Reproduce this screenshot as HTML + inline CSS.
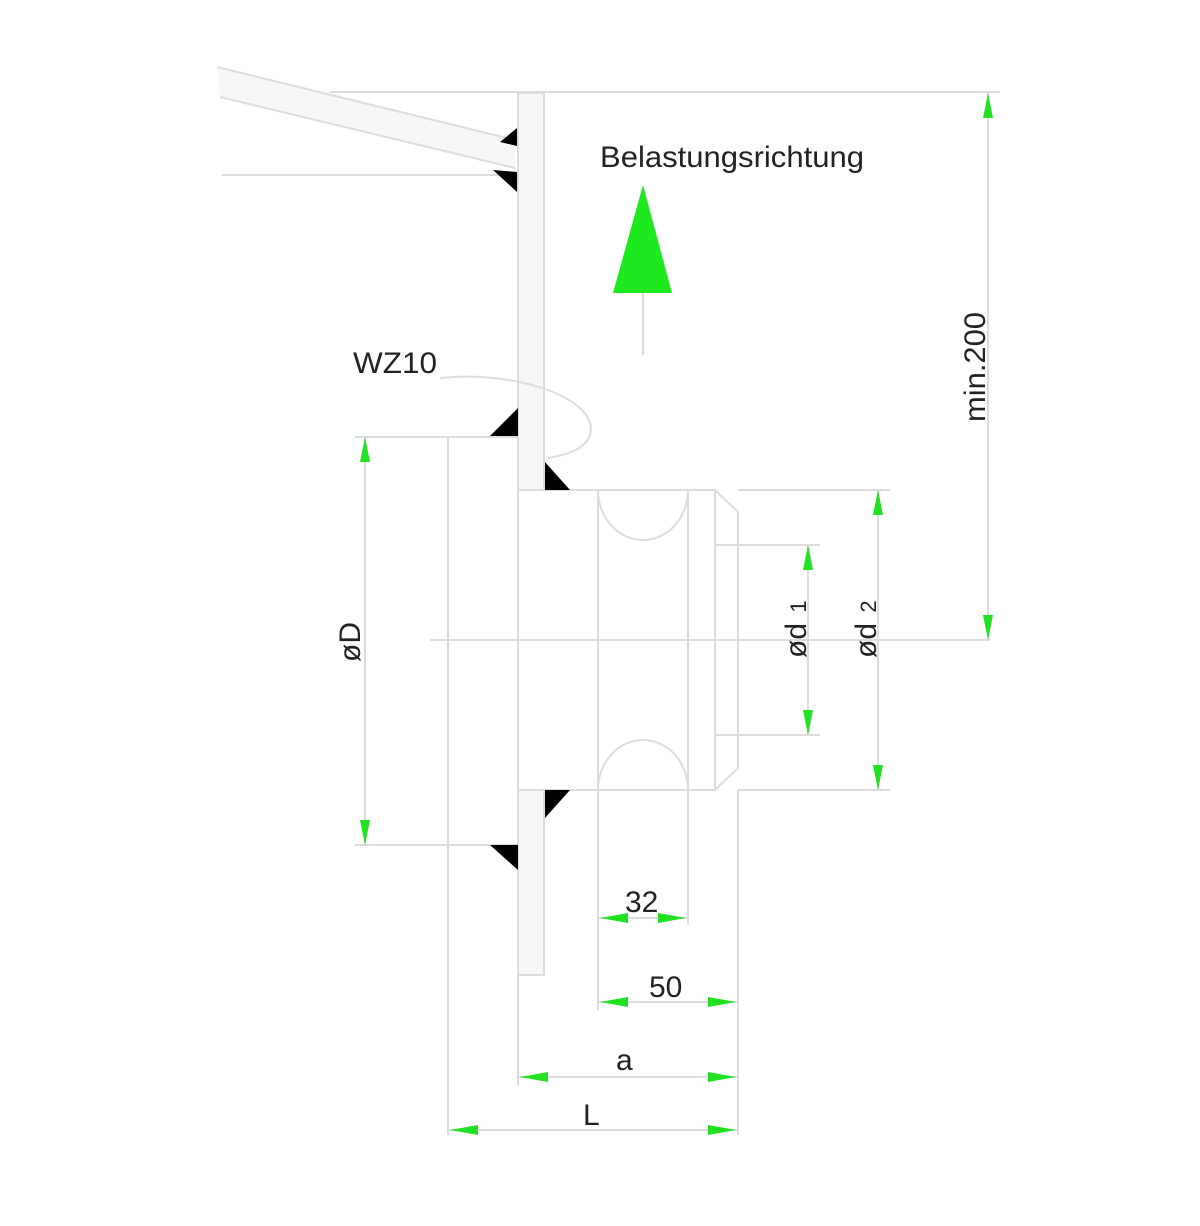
<!DOCTYPE html>
<html><head><meta charset="utf-8"><style>
html,body{margin:0;padding:0;background:#fff;}
svg{display:block;}
text{font-family:"Liberation Sans",sans-serif;fill:#222;}
</style></head><body>
<svg width="1200" height="1226" viewBox="0 0 1200 1226" xmlns="http://www.w3.org/2000/svg">
<polygon points="217,67 515,140 515,168 220,97" fill="#f7f7f7"/>
<g stroke="#dcdcdc" stroke-width="2" fill="none">
  <line x1="217" y1="67" x2="515" y2="140"/>
  <line x1="220" y1="97" x2="515" y2="168"/>
  <line x1="222" y1="175" x2="500" y2="175"/>
  <line x1="330" y1="92" x2="1000" y2="92"/>
  <rect x="518" y="93" width="26" height="882" fill="#f7f7f7"/>
  <rect x="448" y="437" width="70" height="408" fill="#fff"/>
  <rect x="518" y="490" width="80" height="300" fill="#fff"/>
  <line x1="598" y1="490" x2="688" y2="490"/>
  <line x1="598" y1="790" x2="688" y2="790"/>
  <path d="M598,490 A45,50 0 0 0 688,490"/>
  <path d="M598,790 A45,50 0 0 1 688,790"/>
  <line x1="688" y1="490" x2="688" y2="790"/>
  <line x1="715" y1="490" x2="715" y2="790"/>
  <path d="M688,490 L715,490 L738,512 L738,768 L715,790 L688,790"/>
  <line x1="430" y1="640" x2="990" y2="640"/>
  <line x1="355" y1="437" x2="448" y2="437"/>
  <line x1="355" y1="845" x2="448" y2="845"/>
  <line x1="715" y1="545" x2="820" y2="545"/>
  <line x1="715" y1="735" x2="820" y2="735"/>
  <line x1="738" y1="490" x2="890" y2="490"/>
  <line x1="738" y1="790" x2="890" y2="790"/>
  <line x1="598" y1="790" x2="598" y2="1010"/>
  <line x1="688" y1="790" x2="688" y2="925"/>
  <line x1="738" y1="790" x2="738" y2="1135"/>
  <line x1="518" y1="975" x2="518" y2="1085"/>
  <line x1="448" y1="845" x2="448" y2="1135"/>
  <line x1="365" y1="437" x2="365" y2="845"/>
  <line x1="808" y1="545" x2="808" y2="735"/>
  <line x1="878" y1="490" x2="878" y2="790"/>
  <line x1="988" y1="93" x2="988" y2="640"/>
  <line x1="598" y1="918" x2="688" y2="918"/>
  <line x1="598" y1="1002" x2="738" y2="1002"/>
  <line x1="518" y1="1077" x2="738" y2="1077"/>
  <line x1="448" y1="1130" x2="738" y2="1130"/>
  <line x1="643" y1="293" x2="643" y2="355"/>
  <path d="M440,378 C520,370 600,400 590,435 C585,450 565,455 548,458"/>
</g>
<g fill="#000">
  <polygon points="500,142 517,128 517,146"/>
  <polygon points="493,170 517,172 517,192"/>
  <polygon points="490,436 518,408 518,436"/>
  <polygon points="545,462 545,490 570,490"/>
  <polygon points="545,790 570,790 545,818"/>
  <polygon points="490,845 518,845 518,870"/>
</g>
<polygon points="643,185 613,293 672,293" fill="#1ee81e"/>
<g fill="#22e022">
  <polygon points="365,437 360,462 370,462"/>
  <polygon points="365,845 360,820 370,820"/>
  <polygon points="808,545 803,570 813,570"/>
  <polygon points="808,735 803,710 813,710"/>
  <polygon points="878,490 873,515 883,515"/>
  <polygon points="878,790 873,765 883,765"/>
  <polygon points="988,93 983,118 993,118"/>
  <polygon points="988,640 983,615 993,615"/>
  <polygon points="600,918 628,913 628,923"/>
  <polygon points="686,918 658,913 658,923"/>
  <polygon points="600,1002 628,997 628,1007"/>
  <polygon points="736,1002 708,997 708,1007"/>
  <polygon points="520,1077 548,1072 548,1082"/>
  <polygon points="736,1077 708,1072 708,1082"/>
  <polygon points="450,1130 478,1125 478,1135"/>
  <polygon points="736,1130 708,1125 708,1135"/>
</g>
<text x="600" y="167" font-size="30" textLength="264" lengthAdjust="spacingAndGlyphs">Belastungsrichtung</text>
<text x="353" y="373" font-size="30" textLength="84" lengthAdjust="spacingAndGlyphs">WZ10</text>
<text x="625" y="912" font-size="30">32</text>
<text x="649" y="997" font-size="30">50</text>
<text x="616" y="1070" font-size="30">a</text>
<text x="583" y="1125" font-size="30">L</text>
<text transform="translate(360,662) rotate(-90)" font-size="30">øD</text>
<text transform="translate(806,658) rotate(-90)" font-size="30">ød <tspan font-size="22" dx="2">1</tspan></text>
<text transform="translate(876,658) rotate(-90)" font-size="30">ød <tspan font-size="22" dx="2">2</tspan></text>
<text transform="translate(985,422) rotate(-90)" font-size="30" textLength="110" lengthAdjust="spacingAndGlyphs">min.200</text>
</svg>
</body></html>
